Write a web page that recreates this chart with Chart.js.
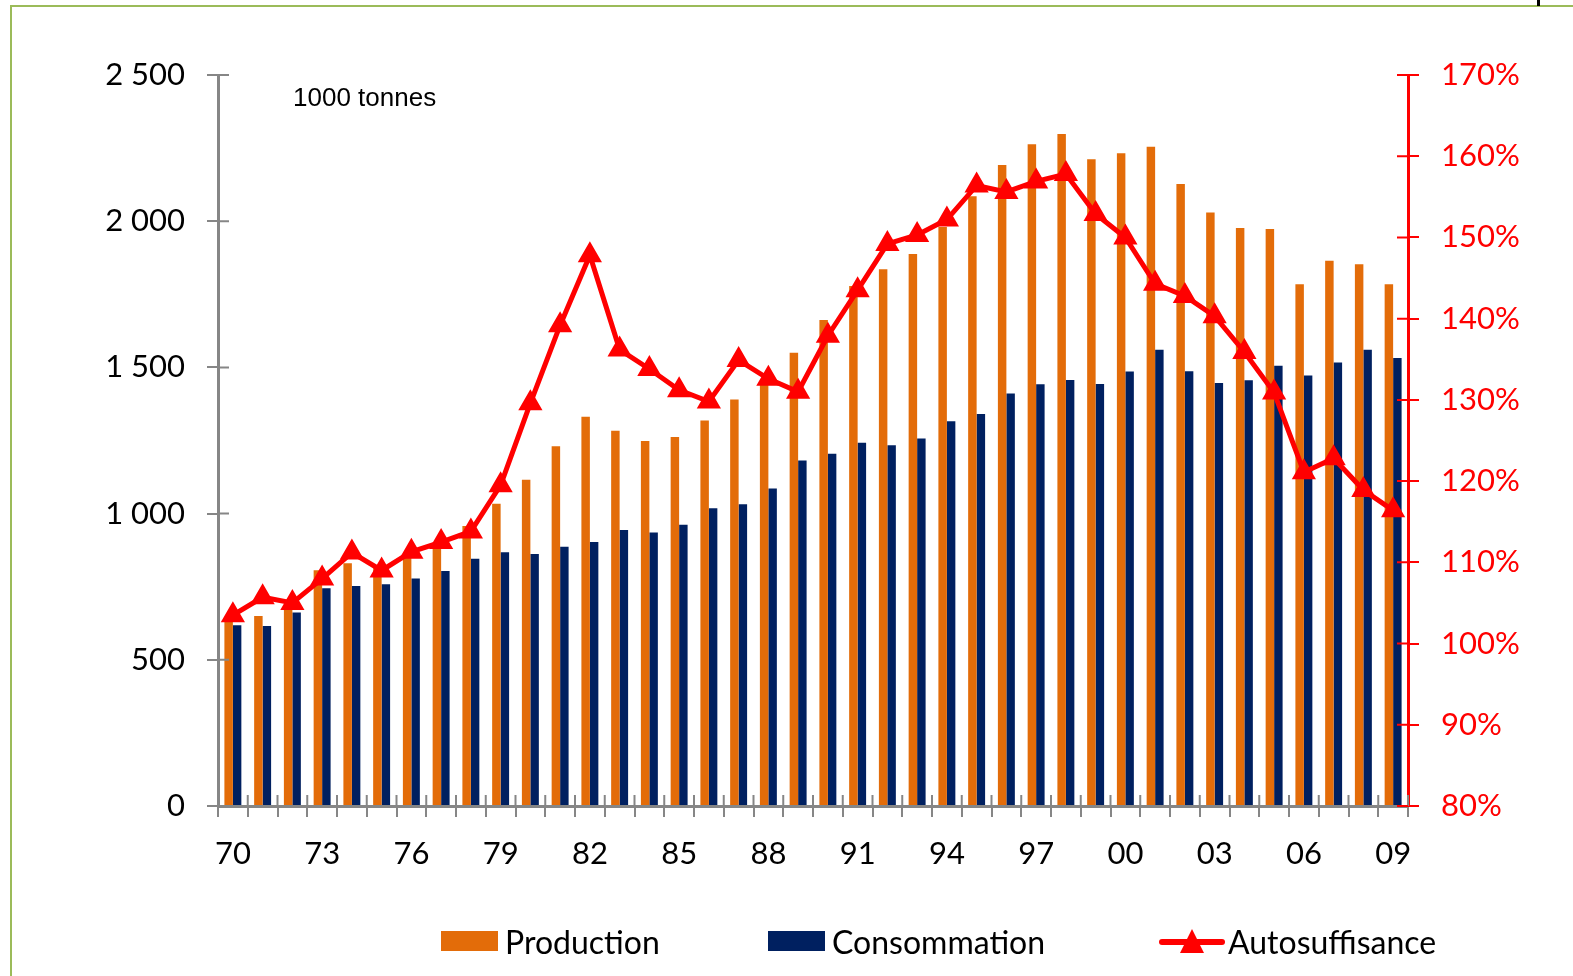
<!DOCTYPE html>
<html>
<head>
<meta charset="utf-8">
<script src="https://cdn.jsdelivr.net/npm/chart.js@4.4.1/dist/chart.umd.min.js"></script>
<style>
  html, body { margin: 0; padding: 0; background: #fff; }
  #wrap { position: relative; width: 1573px; height: 976px; overflow: hidden; }
  #frame { position: absolute; left: 10px; top: 5px; width: 1700px; height: 1100px;
           border-left: 2px solid #9BBB59; border-top: 2px solid #9BBB59; }
  #mark { position: absolute; left: 1537px; top: 0; width: 3px; height: 6px; background: #000; }
  #chart { position: absolute; left: 0; top: 0; }
  #unit { position: absolute; left: 293px; top: 82px; font: 26px "Liberation Sans", Arial, sans-serif; color: #000; }
  .leg { position: absolute; top: 921px; height: 40px; display: flex; align-items: center;
         font: 32px Lato, sans-serif; color: #000; }
  .box { width: 57px; height: 20px; margin-right: 7px; }
</style>
</head>
<body>
<div id="wrap">
  <div id="frame"></div>
  <div id="mark"></div>
  <canvas id="chart" width="1573" height="976"></canvas>
  <div id="unit">1000 tonnes</div>
  <div class="leg" style="left:441px"><div class="box" style="background:#E36C09"></div>Production</div>
  <div class="leg" style="left:768px"><div class="box" style="background:#002060"></div>Consommation</div>
  <div class="leg" style="left:1159px">
    <svg width="66" height="26" style="margin-right:3px">
      <line x1="3" y1="14" x2="63" y2="14" stroke="#FF0000" stroke-width="6" stroke-linecap="round"/>
      <polygon points="33,1 45,25 21,25" fill="#FF0000"/>
    </svg>Autosuffisance
  </div>
</div>
<script>
// annees 1970-2009
const years = ['70','71','72','73','74','75','76','77','78','79',
               '80','81','82','83','84','85','86','87','88','89',
               '90','91','92','93','94','95','96','97','98','99',
               '00','01','02','03','04','05','06','07','08','09'];

// 1000 tonnes
const production = [640, 650, 690, 806, 830, 820, 860, 900, 958, 1034,
                    1116, 1230, 1331, 1283, 1248, 1262, 1318, 1390, 1445, 1550,
                    1662, 1778, 1836, 1888, 1980, 2085, 2192, 2263, 2298, 2212,
                    2232, 2255, 2127, 2030, 1977, 1973, 1784, 1865, 1853, 1784];

const consommation = [618, 616, 662, 745, 752, 758, 778, 804, 846, 868,
                      862, 887, 903, 944, 935, 962, 1018, 1032, 1086, 1182,
                      1205, 1242, 1234, 1257, 1316, 1341, 1411, 1442, 1457, 1443,
                      1486, 1560, 1487, 1447, 1456, 1506, 1472, 1517, 1560, 1532];

// %
const autosuffisance = [103.5, 105.7, 105.0, 108.0, 111.2, 109.0, 111.3, 112.5, 113.8, 119.5,
                        129.6, 139.2, 147.8, 136.2, 133.8, 131.2, 129.8, 134.9, 132.6, 131.0,
                        137.9, 143.5, 149.2, 150.3, 152.2, 156.4, 155.6, 156.9, 157.8, 152.9,
                        150.0, 144.3, 142.8, 140.3, 135.9, 130.9, 121.1, 122.8, 118.9, 116.4];

const fmtThousands = v => String(v).replace(/\B(?=(\d{3})+(?!\d))/g, ' ');

// inner half of the "cross" tick marks
const crossTicks = {
  id: 'crossTicks',
  afterDatasetsDraw(chart) {
    const ctx = chart.ctx;
    const xs = chart.scales.x, yl = chart.scales.y, yr = chart.scales.y1;
    ctx.save();
    ctx.lineWidth = 2;
    ctx.strokeStyle = '#868686';
    ctx.beginPath();
    yl.ticks.forEach(t => {
      const py = yl.getPixelForValue(t.value);
      ctx.moveTo(yl.right, py);
      ctx.lineTo(yl.right + 11, py);
    });
    for (let i = 0; i <= years.length; i++) {
      const px = xs.left + i * xs.width / years.length;
      ctx.moveTo(px, xs.top);
      ctx.lineTo(px, xs.top - 11);
    }
    ctx.stroke();
    ctx.strokeStyle = '#FF0000';
    ctx.beginPath();
    yr.ticks.forEach(t => {
      const py = yr.getPixelForValue(t.value);
      ctx.moveTo(yr.left, py);
      ctx.lineTo(yr.left - 11, py);
    });
    ctx.stroke();
    ctx.restore();
  }
};

const ctx = document.getElementById('chart').getContext('2d');
const chart = new Chart(ctx, {
  type: 'bar',
  data: {
    labels: years,
    datasets: [
      {
        type: 'line',
        label: 'Autosuffisance',
        data: autosuffisance,
        yAxisID: 'y1',
        borderColor: '#FF0000',
        backgroundColor: '#FF0000',
        borderWidth: 5,
        tension: 0,
        pointStyle: 'triangle',
        pointRadius: 12,
        pointBorderWidth: 2,
        pointBackgroundColor: '#FF0000',
        pointBorderColor: '#FF0000',
        order: 0
      },
      {
        label: 'Production',
        data: production,
        yAxisID: 'y',
        backgroundColor: '#E36C09',
        categoryPercentage: 0.57,
        barPercentage: 1.0,
        order: 1
      },
      {
        label: 'Consommation',
        data: consommation,
        yAxisID: 'y',
        backgroundColor: '#002060',
        categoryPercentage: 0.57,
        barPercentage: 1.0,
        order: 1
      }
    ]
  },
  options: {
    responsive: false,
    devicePixelRatio: 1,
    animation: false,
    layout: { padding: { top: 75, left: 0, right: 0, bottom: 0 } },
    plugins: {
      legend: { display: false },
      tooltip: { enabled: false }
    },
    scales: {
      x: {
        offset: true,
        grid: { offset: true, drawOnChartArea: false, tickLength: 11, color: '#868686', lineWidth: 2 },
        border: { color: '#868686', width: 3 },
        ticks: {
          autoSkip: false, maxRotation: 0, padding: 18, color: '#000',
          font: { family: 'Lato', size: 31 },
          callback: (v, i) => (i % 3 === 0 ? years[i] : '')
        },
        afterFit: s => { s.height = 170; }
      },
      y: {
        position: 'left',
        min: 0, max: 2500,
        grid: { drawOnChartArea: false, tickLength: 11, color: '#868686', lineWidth: 2 },
        border: { color: '#868686', width: 3 },
        ticks: {
          stepSize: 500, padding: 22, color: '#000',
          font: { family: 'Lato', size: 31 },
          callback: v => fmtThousands(v)
        },
        afterFit: s => { s.width = 218; }
      },
      y1: {
        position: 'right',
        min: 80, max: 170,
        grid: { drawOnChartArea: false, tickLength: 11, color: '#FF0000', lineWidth: 2 },
        border: { color: '#FF0000', width: 3 },
        ticks: {
          stepSize: 10, padding: 22, color: '#FF0000',
          font: { family: 'Lato', size: 31 },
          callback: v => v + '%'
        },
        afterFit: s => { s.width = 165; }
      }
    }
  },
  plugins: [crossTicks]
});
</script>
</body>
</html>
